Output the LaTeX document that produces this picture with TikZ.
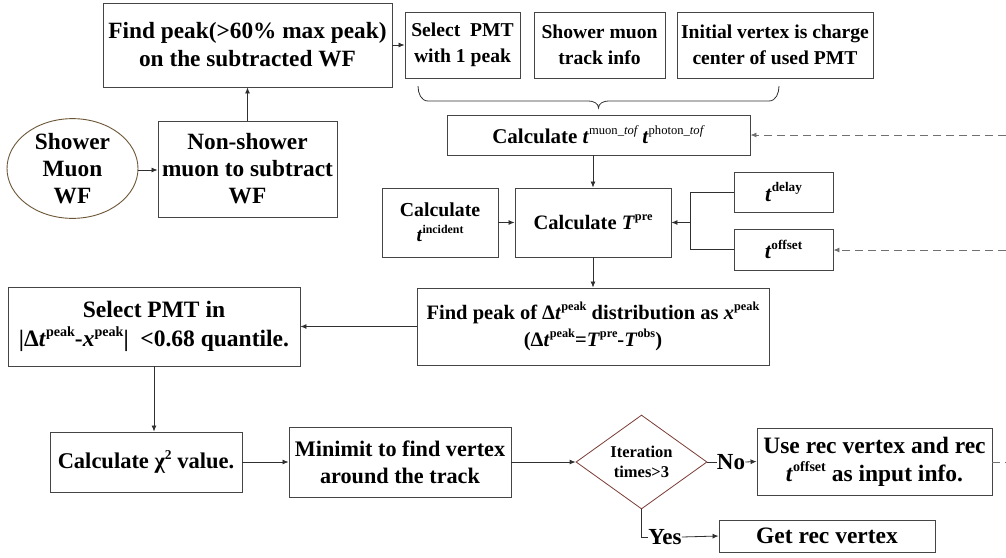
\documentclass[tikz,border=0pt]{standalone}
\usepackage{fontspec}
\setmainfont{Liberation Serif}
\usetikzlibrary{arrows.meta,shapes.geometric}
\definecolor{boxc}{HTML}{454545}
\definecolor{linec}{HTML}{303030}
\definecolor{ellc}{HTML}{6B5535}
\definecolor{diac}{HTML}{7A3A35}
\definecolor{dashc}{HTML}{707070}
\newcommand{\mysup}[1]{\raisebox{0.42em}{\scalebox{0.6}{#1}}}
\tikzset{
  box/.style={draw=boxc, line width=0.9pt, align=center, inner sep=1pt,
    font=\bfseries\fontsize{20}{25}\selectfont},
  conn/.style={draw=linec, line width=0.8pt, -{Latex[length=6pt,width=5pt]}},
  plain/.style={draw=linec, line width=0.8pt},
  dconn/.style={draw=dashc, line width=0.9pt, dash pattern=on 8pt off 5pt, -{Latex[length=6pt,width=5pt]}},
  dplain/.style={draw=dashc, line width=0.9pt, dash pattern=on 8pt off 5pt},
  lbl/.style={inner sep=0pt, font=\bfseries\fontsize{23}{27}\selectfont},
}
\begin{document}
\begin{tikzpicture}[x=1pt,y=-1pt]
\useasboundingbox (0,0) rectangle (1006,557);
% top row
\node[box, minimum width=289pt, minimum height=84pt, font=\bfseries\fontsize{23.3}{28}\selectfont] (fp) at (247.5,45) {Find peak(>60\% max peak)\\on the subtracted WF};
\node[box, minimum width=115pt, minimum height=66pt, font=\bfseries\fontsize{19.6}{26}\selectfont] (sel) at (462.5,45) {Select\ \ PMT\\with 1 peak};
\node[box, minimum width=131pt, minimum height=66pt, font=\bfseries\fontsize{19.6}{26}\selectfont] (smt) at (599.5,45) {Shower muon\\track info};
\node[box, minimum width=196pt, minimum height=66pt, font=\bfseries\fontsize{19.6}{26}\selectfont] (iv) at (775,45) {Initial vertex is charge\\center of used PMT};
% left input
\node[draw=ellc, line width=0.9pt, ellipse, minimum width=131pt, minimum height=97pt, inner sep=0pt, align=center,
  font=\bfseries\fontsize{23.3}{27}\selectfont] (ell) at (72.5,168.5) {Shower\\Muon\\WF};
\node[box, minimum width=179pt, minimum height=96pt, font=\bfseries\fontsize{23.3}{27}\selectfont] (nsm) at (247.5,169) {Non-shower\\muon to subtract\\WF};
% brace
\coordinate (b1) at (418,86);
\coordinate (b2) at (779,86);
\coordinate (bt) at (598.5,108);
\draw[plain] (b1) to[out=-90,in=180] (428,101) -- (588.5,101) to[out=0,in=90] (bt)
  to[out=90,in=180] (608.5,101) -- (769,101) to[out=0,in=-90] (b2);
% middle
\node[box, minimum width=303pt, minimum height=40pt, font=\bfseries\fontsize{21}{26}\selectfont] (tmu) at (598.5,135)
  {Calculate \textit{t}\mysup{\mdseries muon\_\textit{tof}}\,\textit{t}\mysup{\mdseries photon\_\textit{tof}}};
\node[box, minimum width=116pt, minimum height=69pt, font=\bfseries\fontsize{19.8}{25}\selectfont] (tinc) at (440,222.5) {Calculate\\\textit{t}\mysup{incident}};
\node[box, minimum width=156pt, minimum height=69pt, font=\bfseries\fontsize{20.5}{25}\selectfont] (tpre) at (593,222.5) {Calculate \textit{T}\mysup{pre}};
\node[box, minimum width=99pt, minimum height=40pt, font=\bfseries\fontsize{22}{25}\selectfont] (tdel) at (783.5,192) {\textit{t}\mysup{delay}};
\node[box, minimum width=99pt, minimum height=41pt, font=\bfseries\fontsize{22}{25}\selectfont] (toff) at (783.5,249.5) {\textit{t}\mysup{offset}};
\node[box, minimum width=352pt, minimum height=77pt, font=\bfseries\fontsize{20.5}{27}\selectfont] (fpk) at (593,326.5)
  {Find peak of Δ\textit{t}\mysup{peak} distribution as \textit{x}\mysup{peak}\\(Δ\textit{t}\mysup{peak}=\textit{T}\mysup{pre}-\textit{T}\mysup{obs})};
\node[box, minimum width=292pt, minimum height=79pt, font=\bfseries\fontsize{23.5}{29}\selectfont] (spmt) at (154,326.5)
  {Select PMT in\\|Δ\textit{t}\mysup{peak}-\textit{x}\mysup{peak}|\ \ <0.68 quantile.};
% bottom row
\node[box, minimum width=192pt, minimum height=60pt, font=\bfseries\fontsize{22.5}{27}\selectfont] (chi) at (146,462) {Calculate χ\mysup{2} value.};
\node[box, minimum width=222pt, minimum height=70pt, font=\bfseries\fontsize{22.2}{27}\selectfont] (mini) at (400,462) {Minimit to find vertex\\around the track};
\node[draw=diac, line width=0.8pt, diamond, minimum width=131pt, minimum height=90pt, inner sep=0pt, align=center,
  font=\bfseries\fontsize{16.5}{20}\selectfont] (dia) at (641.5,462) {Iteration\\times>3};
\node[lbl] (no) at (731,462) {No};
\node[box, minimum width=235pt, minimum height=67pt, font=\bfseries\fontsize{23.5}{28}\selectfont] (ure) at (874.5,461.5) {Use rec vertex and rec\\\textit{t}\mysup{offset} as input info.};
\node[lbl] (yes) at (665,537) {Yes};
\node[box, minimum width=216pt, minimum height=32pt, font=\bfseries\fontsize{23.5}{28}\selectfont] (grv) at (827,536) {Get rec vertex};
% free ends on the right
\coordinate (r1) at (1006,135);
\coordinate (r2) at (1006,250);
\coordinate (r3) at (1006,462);
\coordinate (jn) at (690,222.5);
% connectors
\draw[conn] (ell.east |- 0,170) -- (nsm.west |- 0,170);
\draw[conn] (nsm.north) -- (fp.south);
\draw[conn] (fp.east) -- (sel.west);
\draw[conn] (tmu.south -| tpre.north) -- (tpre.north);
\draw[conn] (tinc.east) -- (tpre.west);
\draw[plain] (tdel.west) -| (jn);
\draw[plain] (toff.west) -| (jn);
\draw[conn] (jn) -- (tpre.east);
\draw[conn] (tpre.south) -- (fpk.north);
\draw[conn] (fpk.west) -- (spmt.east);
\draw[conn] (spmt.south) -- (spmt.south |- chi.north);
\draw[conn] (chi.east) -- (mini.west);
\draw[conn] (mini.east) -- (dia.west);
\draw[plain] (dia.east) -- (no.west);
\draw[conn] (no.east) -- (ure.west);
\draw[plain] (dia.south) |- (yes.west);
\draw[conn] (yes.east) -- (grv.west);
\draw[dplain] (ure.east |- r3) -- (r3);
\draw[dconn] (r1) -- (tmu.east |- r1);
\draw[dconn] (r2) -- (toff.east |- r2);
\end{tikzpicture}
\end{document}
